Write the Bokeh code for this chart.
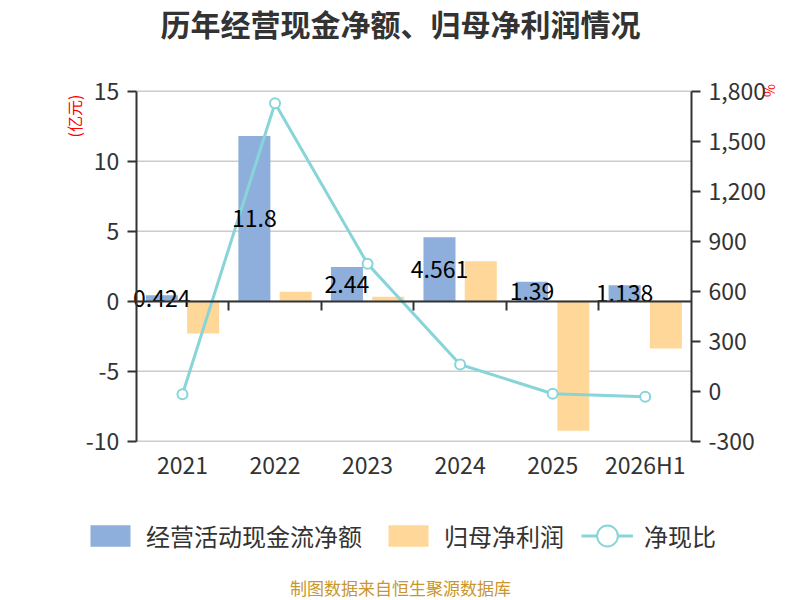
from bokeh.plotting import figure
from bokeh.models import (ColumnDataSource, Range1d, LinearAxis, FixedTicker,
                          NumeralTickFormatter, Label, Legend, LegendItem)
from bokeh.transform import dodge
from bokeh.core.properties import value
from bokeh.embed import file_html
from bokeh.resources import INLINE
import math

# values
years = ["2021", "2022", "2023", "2024", "2025", "2026H1"]
cash_flow = [0.424, 11.8, 2.44, 4.561, 1.39, 1.138]      # 经营活动现金流净额 (亿元)
net_profit = [-2.3, 0.68, 0.32, 2.86, -9.25, -3.37]      # 归母净利润 (亿元)
cash_ratio = [-18, 1728, 764, 160, -15, -34]             # 净现比 (%)
left_ticks = [-10, -5, 0, 5, 10, 15]
right_ticks = [-300, 0, 300, 600, 900, 1200, 1500, 1800]

FONT = "Noto Sans CJK SC"
BLUE = "#8eafdb"
ORANGE = "#ffd899"
TEAL = "#88d5d9"
AXIS = "#333333"

W, H = 800, 600
# where the plotting area sits on the canvas (pixels from left / from bottom)
PX_L, PX_R = 135.7, 691.0
PY_B, PY_T = H - 440.7, H - 90.7


def canvas_range(lo, hi, p_lo, p_hi, total):
    # data range spanning the whole canvas, lo landing on pixel p_lo and hi on p_hi
    s = (hi - lo) / (p_hi - p_lo)
    return Range1d(lo - p_lo * s, hi + (total - p_hi) * s)


n = len(years)
pos = [i + 0.5 for i in range(n)]
src = ColumnDataSource(data=dict(
    pos=pos, cash=cash_flow, profit=net_profit, ratio=cash_ratio,
    mid=[v / 2 for v in cash_flow], label=[str(v) for v in cash_flow]))

p = figure(width=W, height=H, title=None,
           x_range=canvas_range(0, n, PX_L, PX_R, W),
           y_range=canvas_range(left_ticks[0], left_ticks[-1], PY_B, PY_T, H),
           x_axis_type=None, y_axis_type=None, min_border=0,
           output_backend="svg", toolbar_location=None)
p.extra_y_ranges = {"ratio": canvas_range(right_ticks[0], right_ticks[-1], PY_B, PY_T, H)}
p.outline_line_color = None

# horizontal grid lines at the left ticks
p.segment(x0=0, x1=n, y0=left_ticks, y1=left_ticks, line_color="#cccccc", line_width=1.5)

# bars
blue = p.vbar(x=dodge("pos", -0.223), top="cash", width=0.346, source=src,
              fill_color=BLUE, line_color=None)
orange = p.vbar(x=dodge("pos", 0.223), top="profit", width=0.346, source=src,
                fill_color=ORANGE, line_color=None)

# ratio line
ln = p.line("pos", "ratio", source=src, y_range_name="ratio", line_color=TEAL, line_width=3)
pts = p.scatter("pos", "ratio", source=src, y_range_name="ratio", marker="circle", size=10,
                fill_color="white", line_color=TEAL, line_width=2)

# bar labels
p.text(x=dodge("pos", -0.223), y="mid", text="label", source=src,
       text_align="center", text_baseline="middle", text_font=value(FONT),
       text_font_size="23px", text_color="black")


def style(ax, tick_out=9, standoff=8):
    ax.axis_line_color = AXIS
    ax.axis_line_width = 2
    ax.major_tick_line_color = AXIS
    ax.major_tick_line_width = 2
    ax.major_tick_in = 0
    ax.major_tick_out = tick_out
    ax.minor_tick_line_color = None
    ax.major_label_standoff = standoff
    ax.major_label_text_font = FONT
    ax.major_label_text_font_size = "23px"
    ax.major_label_text_color = AXIS


y_left = LinearAxis(fixed_location=0, bounds=(left_ticks[0], left_ticks[-1]),
                    ticker=FixedTicker(ticks=left_ticks), formatter=NumeralTickFormatter(format="0"))
style(y_left)
p.add_layout(y_left, "left")

y_right = LinearAxis(y_range_name="ratio", fixed_location=n, bounds=(right_ticks[0], right_ticks[-1]),
                     ticker=FixedTicker(ticks=right_ticks), formatter=NumeralTickFormatter(format="0,0"))
style(y_right)
p.add_layout(y_right, "right")

# category axis drawn along zero, ticks between the years
x_zero = LinearAxis(fixed_location=0, bounds=(0, n), ticker=FixedTicker(ticks=list(range(1, n))))
style(x_zero)
x_zero.major_label_text_color = None
p.add_layout(x_zero, "below")

# year labels under the plotting area
x_lab = LinearAxis(fixed_location=left_ticks[0], ticker=FixedTicker(ticks=pos),
                   major_label_overrides={v: y for v, y in zip(pos, years)})
style(x_lab, tick_out=0, standoff=6)
x_lab.axis_line_color = None
x_lab.major_tick_line_color = None
p.add_layout(x_lab, "below")

# texts around the plotting area (screen units from the bottom-left)
p.add_layout(Label(x=400, y=H - 22, x_units="screen", y_units="screen",
                   text="历年经营现金净额、归母净利润情况",
                   text_align="center", text_baseline="middle", text_font=FONT,
                   text_font_size="30px", text_font_style="bold", text_color=AXIS))
p.add_layout(Label(x=73.5, y=H - 115.5, x_units="screen", y_units="screen", text="(亿元)",
                   angle=math.pi / 2, text_align="center", text_baseline="middle",
                   text_font=FONT, text_font_size="16px", text_color="red"))
p.add_layout(Label(x=768, y=H - 90, x_units="screen", y_units="screen", text="%",
                   angle=math.pi / 2, text_align="center", text_baseline="middle",
                   text_font=FONT, text_font_size="14px", text_color="red"))
p.add_layout(Label(x=400, y=H - 587, x_units="screen", y_units="screen",
                   text="制图数据来自恒生聚源数据库",
                   text_align="center", text_baseline="middle", text_font=FONT,
                   text_font_size="17px", text_color="#c8962d"))

# legends, one per item so each can be placed on its own
for label, rends, loc, gw, gh in [
        ("经营活动现金流净额", [blue], (85, 47), 50, 27),
        ("归母净利润", [orange], (383, 47), 50, 27),
        ("净现比", [ln, pts], (581, 37), 52, 55)]:
    lg = Legend(items=[LegendItem(label=label, renderers=rends)], location=loc,
                orientation="horizontal", glyph_width=gw, glyph_height=gh, label_standoff=11,
                padding=0, margin=0, background_fill_alpha=0, border_line_alpha=0,
                label_text_font=FONT, label_text_font_size="24px", label_text_color=AXIS)
    p.add_layout(lg)

open("out.html", "w").write(file_html(p, INLINE))
